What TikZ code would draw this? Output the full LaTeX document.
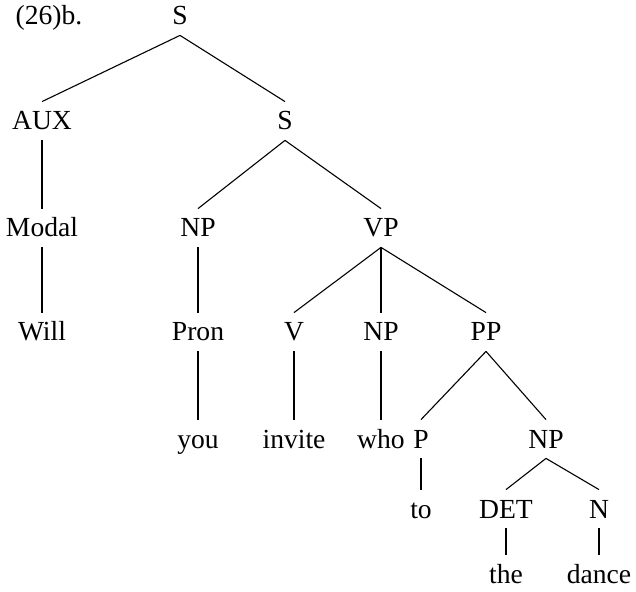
\documentclass[tikz,border=0pt]{standalone}
\usepackage{fontspec}
\setmainfont{Liberation Serif}

\begin{document}
\begin{tikzpicture}[x=0.5pt,y=-0.5pt]
\useasboundingbox (0,0) rectangle (636,592);

\begin{scope}[every node/.style={font=\fontsize{13.8}{16}\selectfont,inner xsep=2pt,inner ysep=5pt,text height=9pt,text depth=0pt}]
	%Example number
	\node (ex) at (49,16) {(26)b.};

	%Level 0
	\node (S_0) at (180,16) {S};

	%Level 1
	\node (AUX) at (42,121) {AUX};
	\node (S_1) at (285,121) {S};

	%Level 2
	\node (Modal) at (42,228) {Modal};
	\node (NP_1) at (198,228) {NP};
	\node (VP) at (381,228) {VP};

	%Level 3
	\node (Will) at (42,332) {Will};
	\node (Pron) at (198,332) {Pron};
	\node (V) at (294,332) {V};
	\node (NP_2) at (381,332) {NP};
	\node (PP) at (486,332) {PP};

	%Level 4
	\node (you) at (198,439) {you};
	\node (invite) at (294,439) {invite};
	\node (who) at (381,439) {who};
	\node (P) at (421,439) {P};
	\node (NP_3) at (546,439) {NP};

	%Level 5
	\node (to) at (421,509) {to};
	\node (DET) at (506,509) {DET};
	\node (N) at (599,509) {N};

	%Level 6
	\node (the) at (506,574) {the};
	\node (dance) at (599,574) {dance};
\end{scope}

\begin{scope}[style={line width=0.55pt,draw}]
	%Top
	\path [-] (S_0.south) edge node {} (AUX.north);
	\path [-] (S_0.south) edge node {} (S_1.north);

	%Auxiliary
	\path [-] (AUX.south) edge node {} (Modal.north);
	\path [-] (Modal.south) edge node {} (Will.north);

	%Inner S
	\path [-] (S_1.south) edge node {} (NP_1.north);
	\path [-] (S_1.south) edge node {} (VP.north);
	\path [-] (NP_1.south) edge node {} (Pron.north);
	\path [-] (Pron.south) edge node {} (you.north);

	%VP
	\path [-] (VP.south) edge node {} (V.north);
	\path [-] (VP.south) edge node {} (NP_2.north);
	\path [-] (VP.south) edge node {} (PP.north);
	\path [-] (V.south) edge node {} (invite.north);
	\path [-] (NP_2.south) edge node {} (who.north);

	%PP
	\path [-] (PP.south) edge node {} (P.north);
	\path [-] (PP.south) edge node {} (NP_3.north);
	\path [-] (P.south) edge node {} (to.north);
	\path [-] (NP_3.south) edge node {} (DET.north);
	\path [-] (NP_3.south) edge node {} (N.north);
	\path [-] (DET.south) edge node {} (the.north);
	\path [-] (N.south) edge node {} (dance.north);
\end{scope}

\end{tikzpicture}
\end{document}
